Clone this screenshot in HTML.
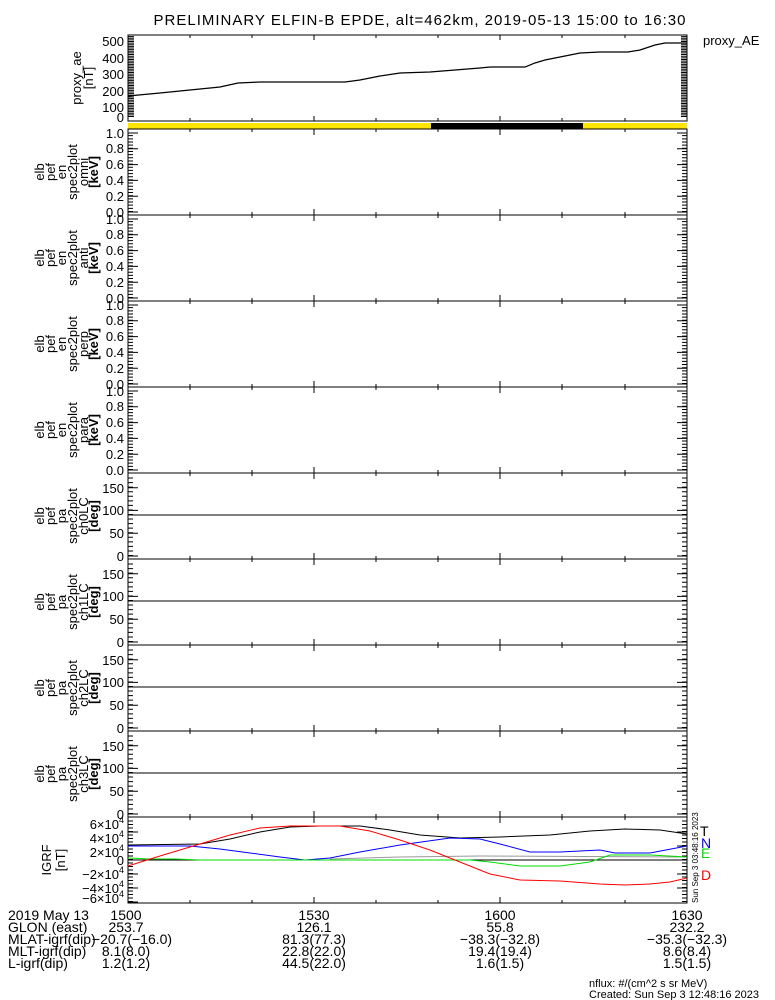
<!DOCTYPE html>
<html><head><meta charset="utf-8"><style>
html,body{margin:0;padding:0;background:#fff}
svg{display:block;font-family:"Liberation Sans",sans-serif}
text{fill:#000}
</style></head><body>
<svg width="775" height="1000" viewBox="0 0 775 1000" xmlns="http://www.w3.org/2000/svg">
<defs>
<g id="etick" stroke="#000" fill="none">
 <rect x="128" y="0" width="559" height="86" stroke-width="1"/>
 <line x1="130.5" y1="83" x2="130.5" y2="4" stroke-width="5" stroke-dasharray="1 2.16"/>
 <line x1="684.5" y1="83" x2="684.5" y2="4" stroke-width="5" stroke-dasharray="1 2.16"/>
 <path d="M128 83h10M128 67.2h10M128 51.4h10M128 35.6h10M128 19.8h10M128 4h10M687 83h-10M687 67.2h-10M687 51.4h-10M687 35.6h-10M687 19.8h-10M687 4h-10"/>
 <path d="M190 0v3M252 0v3M314 0v6M376 0v3M438 0v3M500 0v6M562 0v3M625 0v3M190 86v-3M252 86v-3M314 86v-6M376 86v-3M438 86v-3M500 86v-6M562 86v-3M625 86v-3"/>
</g>
<g id="ptick" stroke="#000" fill="none">
 <rect x="128" y="0" width="559" height="86" stroke-width="1"/>
 <line x1="130.5" y1="83" x2="130.5" y2="1" stroke-width="5" stroke-dasharray="1 3.556"/>
 <line x1="684.5" y1="83" x2="684.5" y2="1" stroke-width="5" stroke-dasharray="1 3.556"/>
 <path d="M128 83h10M128 60.2h10M128 37.4h10M128 14.7h10M687 83h-10M687 60.2h-10M687 37.4h-10M687 14.7h-10"/>
 <path d="M128 42H687"/>
 <path d="M190 0v3M252 0v3M314 0v6M376 0v3M438 0v3M500 0v6M562 0v3M625 0v3M190 86v-3M252 86v-3M314 86v-6M376 86v-3M438 86v-3M500 86v-6M562 86v-3M625 86v-3"/>
</g>
</defs>

<text x="420" y="25" font-size="15" text-anchor="middle" letter-spacing="1">PRELIMINARY ELFIN-B EPDE, alt=462km, 2019-05-13 15:00 to 16:30</text>
<text x="703" y="45" font-size="13">proxy_AE</text>

<g stroke="#000" fill="none">
 <rect x="128" y="35" width="559" height="86"/>
 <line x1="131" y1="117" x2="131" y2="36" stroke-width="6" stroke-dasharray="1 0.63"/>
 <line x1="684" y1="117" x2="684" y2="36" stroke-width="6" stroke-dasharray="1 0.63"/>
 <path d="M190 35v3M252 35v3M314 35v5M376 35v3M438 35v3M500 35v5M562 35v3M625 35v3M190 121v-3M252 121v-3M314 121v-5M376 121v-3M438 121v-3M500 121v-5M562 121v-3M625 121v-3"/>
 <polyline stroke-width="1.2" points="128,96 160,93 200,89 220,87 238,83 260,82 345,82 360,80 380,76 400,73 430,72 455,70 480,68 490,67 525,67 535,63 545,60 560,57 580,53 600,52 628,52 640,50 655,45 665,43 687,43"/>
</g>
<g font-size="13" text-anchor="end">
 <text x="124" y="46">500</text><text x="124" y="63">400</text><text x="124" y="79">300</text>
 <text x="124" y="96">200</text><text x="124" y="112">100</text><text x="124" y="122">0</text>
</g>
<text transform="translate(81,78) rotate(-90)" font-size="13" text-anchor="middle">proxy_ae</text>
<text transform="translate(93,78) rotate(-90)" font-size="13" text-anchor="middle">[nT]</text>

<rect x="128" y="123" width="559" height="6" fill="#ffe600"/>
<rect x="431" y="123" width="152" height="6" fill="#000"/>

<use href="#etick" transform="translate(0,129)"/>
<use href="#etick" transform="translate(0,215)"/>
<use href="#etick" transform="translate(0,301)"/>
<use href="#etick" transform="translate(0,387)"/>
<g font-size="13" text-anchor="end">
 <text x="124" y="138">1.0</text><text x="124" y="153">0.8</text><text x="124" y="169">0.6</text><text x="124" y="185">0.4</text><text x="124" y="201">0.2</text><text x="124" y="217">0.0</text>
 <text x="124" y="224">1.0</text><text x="124" y="239">0.8</text><text x="124" y="255">0.6</text><text x="124" y="271">0.4</text><text x="124" y="287">0.2</text><text x="124" y="303">0.0</text>
 <text x="124" y="310">1.0</text><text x="124" y="325">0.8</text><text x="124" y="341">0.6</text><text x="124" y="357">0.4</text><text x="124" y="373">0.2</text><text x="124" y="389">0.0</text>
 <text x="124" y="396">1.0</text><text x="124" y="411">0.8</text><text x="124" y="427">0.6</text><text x="124" y="443">0.4</text><text x="124" y="459">0.2</text><text x="124" y="475">0.0</text>
</g>
<g font-size="13" text-anchor="middle">
 <g transform="translate(0,172)"><text transform="translate(44,0) rotate(-90)">elb</text><text transform="translate(55,0) rotate(-90)">pef</text><text transform="translate(66,0) rotate(-90)">en</text><text transform="translate(77,0) rotate(-90)">spec2plot</text><text transform="translate(88,0) rotate(-90)">omni</text><text transform="translate(98,0) rotate(-90)" font-weight="bold">[keV]</text></g>
 <g transform="translate(0,258)"><text transform="translate(44,0) rotate(-90)">elb</text><text transform="translate(55,0) rotate(-90)">pef</text><text transform="translate(66,0) rotate(-90)">en</text><text transform="translate(77,0) rotate(-90)">spec2plot</text><text transform="translate(88,0) rotate(-90)">anti</text><text transform="translate(98,0) rotate(-90)" font-weight="bold">[keV]</text></g>
 <g transform="translate(0,344)"><text transform="translate(44,0) rotate(-90)">elb</text><text transform="translate(55,0) rotate(-90)">pef</text><text transform="translate(66,0) rotate(-90)">en</text><text transform="translate(77,0) rotate(-90)">spec2plot</text><text transform="translate(88,0) rotate(-90)">perp</text><text transform="translate(98,0) rotate(-90)" font-weight="bold">[keV]</text></g>
 <g transform="translate(0,430)"><text transform="translate(44,0) rotate(-90)">elb</text><text transform="translate(55,0) rotate(-90)">pef</text><text transform="translate(66,0) rotate(-90)">en</text><text transform="translate(77,0) rotate(-90)">spec2plot</text><text transform="translate(88,0) rotate(-90)">para</text><text transform="translate(98,0) rotate(-90)" font-weight="bold">[keV]</text></g>
</g>

<use href="#ptick" transform="translate(0,473)"/>
<use href="#ptick" transform="translate(0,559)"/>
<use href="#ptick" transform="translate(0,645)"/>
<use href="#ptick" transform="translate(0,731)"/>
<g font-size="13" text-anchor="end">
 <text x="124" y="493">150</text><text x="124" y="515">100</text><text x="124" y="538">50</text><text x="124" y="561">0</text>
 <text x="124" y="579">150</text><text x="124" y="601">100</text><text x="124" y="624">50</text><text x="124" y="647">0</text>
 <text x="124" y="665">150</text><text x="124" y="687">100</text><text x="124" y="710">50</text><text x="124" y="733">0</text>
 <text x="124" y="751">150</text><text x="124" y="773">100</text><text x="124" y="796">50</text><text x="124" y="819">0</text>
</g>
<g font-size="13" text-anchor="middle">
 <g transform="translate(0,516)"><text transform="translate(44,0) rotate(-90)">elb</text><text transform="translate(55,0) rotate(-90)">pef</text><text transform="translate(66,0) rotate(-90)">pa</text><text transform="translate(77,0) rotate(-90)">spec2plot</text><text transform="translate(88,0) rotate(-90)">ch0LC</text><text transform="translate(98,0) rotate(-90)" font-weight="bold">[deg]</text></g>
 <g transform="translate(0,602)"><text transform="translate(44,0) rotate(-90)">elb</text><text transform="translate(55,0) rotate(-90)">pef</text><text transform="translate(66,0) rotate(-90)">pa</text><text transform="translate(77,0) rotate(-90)">spec2plot</text><text transform="translate(88,0) rotate(-90)">ch1LC</text><text transform="translate(98,0) rotate(-90)" font-weight="bold">[deg]</text></g>
 <g transform="translate(0,688)"><text transform="translate(44,0) rotate(-90)">elb</text><text transform="translate(55,0) rotate(-90)">pef</text><text transform="translate(66,0) rotate(-90)">pa</text><text transform="translate(77,0) rotate(-90)">spec2plot</text><text transform="translate(88,0) rotate(-90)">ch2LC</text><text transform="translate(98,0) rotate(-90)" font-weight="bold">[deg]</text></g>
 <g transform="translate(0,774)"><text transform="translate(44,0) rotate(-90)">elb</text><text transform="translate(55,0) rotate(-90)">pef</text><text transform="translate(66,0) rotate(-90)">pa</text><text transform="translate(77,0) rotate(-90)">spec2plot</text><text transform="translate(88,0) rotate(-90)">ch3LC</text><text transform="translate(98,0) rotate(-90)" font-weight="bold">[deg]</text></g>
</g>

<g stroke="#000" fill="none">
 <rect x="128" y="817" width="559" height="86"/>
 <line x1="130.5" y1="902" x2="130.5" y2="818" stroke-width="5" stroke-dasharray="1 2.5"/>
 <line x1="684.5" y1="902" x2="684.5" y2="818" stroke-width="5" stroke-dasharray="1 2.5"/>
 <path d="M128 832h10M128 846h10M128 874h10M128 888h10M128 902h10M687 832h-10M687 846h-10M687 874h-10M687 888h-10"/>
 <path d="M128 860H687"/>
 <path d="M190 817v3M252 817v3M314 817v6M376 817v3M438 817v3M500 817v6M562 817v3M625 817v3M190 903v-3M252 903v-3M314 903v-6M376 903v-3M438 903v-3M500 903v-6M562 903v-3M625 903v-3"/>
 <polyline stroke="#999" points="330,859 400,857 480,856 687,857"/>
 <polyline stroke="#000" points="128,845 200,844 230,839 260,832 290,827 320,826 360,826 390,830 420,835 460,838 500,837 550,835 590,831 625,829 660,830 687,834"/>
 <polyline stroke="#00f" points="128,846 190,846 220,849 250,853 280,857 305,860 330,858 360,852 400,845 450,838 480,839 500,844 530,852 560,852 600,850 615,853 650,853 687,846"/>
 <polyline stroke="#0d0" points="128,858 150,859 175,859 200,860 300,860 470,860 490,862 520,866 560,866 590,862 610,855 650,855 687,857"/>
 <polyline stroke="#f00" points="128,866 160,856 200,844 230,835 260,828 290,826 340,826 370,831 400,840 430,850 460,862 490,874 520,880 560,881 600,884 625,885 650,884 670,882 687,878"/>
</g>
<g font-size="13" text-anchor="end">
 <text x="124" y="829">6×10<tspan font-size="9" dy="-6">4</tspan></text>
 <text x="124" y="843">4×10<tspan font-size="9" dy="-6">4</tspan></text>
 <text x="124" y="857">2×10<tspan font-size="9" dy="-6">4</tspan></text>
 <text x="124" y="865">0</text>
 <text x="124" y="879">−2×10<tspan font-size="9" dy="-6">4</tspan></text>
 <text x="124" y="893">−4×10<tspan font-size="9" dy="-6">4</tspan></text>
 <text x="124" y="903">−6×10<tspan font-size="9" dy="-6">4</tspan></text>
</g>
<text transform="translate(51,860) rotate(-90)" font-size="13" text-anchor="middle">IGRF</text>
<text transform="translate(65,860) rotate(-90)" font-size="13" text-anchor="middle">[nT]</text>
<text transform="translate(698,903) rotate(-90)" font-size="8">Sun Sep  3 03:48:16 2023</text>
<g font-size="14">
 <text x="700" y="836">T</text>
 <text x="701" y="848" style="fill:#00f">N</text>
 <text x="701" y="858" style="fill:#0d0">E</text>
 <text x="701" y="880" style="fill:#f00">D</text>
</g>

<g font-size="14">
 <text x="8" y="920">2019 May 13</text>
 <text x="8" y="932">GLON (east)</text>
 <text x="8" y="944">MLAT-igrf(dip)</text>
 <text x="8" y="956">MLT-igrf(dip)</text>
 <text x="8" y="968">L-igrf(dip)</text>
</g>
<g font-size="14" text-anchor="middle">
 <text x="126" y="920">1500</text><text x="126" y="932">253.7</text><text x="132" y="944">−20.7(−16.0)</text><text x="126" y="956">8.1(8.0)</text><text x="126" y="968">1.2(1.2)</text>
 <text x="314" y="920">1530</text><text x="314" y="932">126.1</text><text x="314" y="944">81.3(77.3)</text><text x="314" y="956">22.8(22.0)</text><text x="314" y="968">44.5(22.0)</text>
 <text x="500" y="920">1600</text><text x="500" y="932">55.8</text><text x="500" y="944">−38.3(−32.8)</text><text x="500" y="956">19.4(19.4)</text><text x="500" y="968">1.6(1.5)</text>
 <text x="687" y="920">1630</text><text x="687" y="932">232.2</text><text x="687" y="944">−35.3(−32.3)</text><text x="687" y="956">8.6(8.4)</text><text x="687" y="968">1.5(1.5)</text>
</g>
<text x="589" y="987" font-size="11">nflux: #/(cm^2 s sr MeV)</text>
<text x="589" y="998" font-size="11">Created: Sun Sep  3 12:48:16 2023</text>
</svg>
</body></html>
